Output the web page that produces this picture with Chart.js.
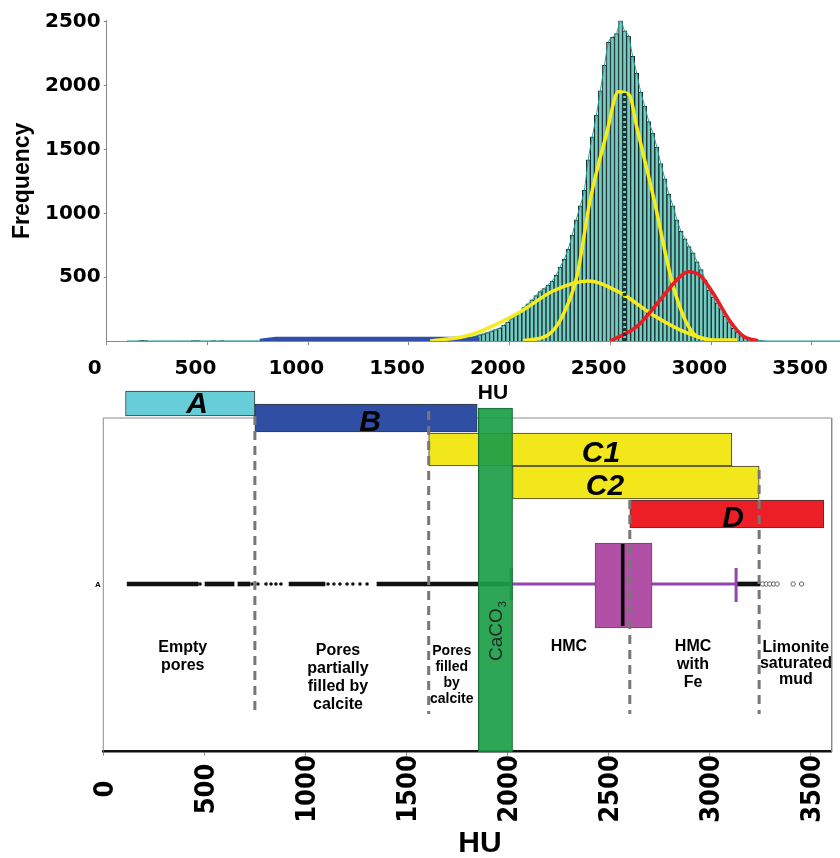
<!DOCTYPE html>
<html>
<head>
<meta charset="utf-8">
<script src="https://cdn.jsdelivr.net/npm/chart.js@4.4.1/dist/chart.umd.min.js"></script>
<style>
  html, body { margin: 0; padding: 0; background: #fff; }
  #wrap { position: relative; width: 840px; height: 858px; }
  #histo, #ranges { position: absolute; left: 0; top: 0; }
</style>
</head>
<body>
<div id="wrap">
  <canvas id="histo" width="840" height="400"></canvas>
  <canvas id="ranges" width="840" height="858"></canvas>
</div>
<script>
// ---------- Histogram of CT numbers (20 HU bins) ----------
const binCenters = [170, 190, 430, 450, 530, 570,
  1770, 1790, 1810, 1830, 1850, 1870, 1890, 1910, 1930, 1950,
  1970, 1990, 2010, 2030, 2050, 2070, 2090, 2110, 2130, 2150,
  2170, 2190, 2210, 2230, 2250, 2270, 2290, 2310, 2330, 2350,
  2370, 2390, 2410, 2430, 2450, 2470, 2490, 2510, 2530, 2550,
  2570, 2590, 2610, 2630, 2650, 2670, 2690, 2710, 2730, 2750,
  2770, 2790, 2810, 2830, 2850, 2870, 2890, 2910, 2930, 2950,
  2970, 2990, 3010, 3030, 3050, 3070, 3090, 3110, 3130, 3150,
  3170, 3190, 3210, 3230, 3250];
const binCounts = [6, 5, 4, 4, 3, 4,
  10, 18, 28, 38, 48, 56, 66, 78, 90, 102,
  122, 148, 175, 200, 228, 262, 292, 322, 355, 388,
  410, 438, 470, 515, 580, 640, 720, 830, 950, 1060,
  1180, 1420, 1600, 1770, 1960, 2160, 2340, 2380, 2410, 2510,
  2430, 2390, 2230, 2100, 1950, 1840, 1720, 1630, 1520, 1390,
  1270, 1150, 1060, 950, 860, 800, 740, 690, 620, 560,
  480, 400, 345, 300, 255, 195, 150, 100, 70, 42,
  28, 17, 10, 5, 3];

// Fitted component curves
const fitBHU = [760, 840, 1850];
const fitBFreq = [0, 15, 15];
const fitC1HU = [2066, 2190, 2260, 2333, 2399, 2481, 2539, 2594, 2630, 2713, 2812, 2911, 2994];
const fitC1Freq = [2, 47, 190, 504, 1105, 1628, 1954, 1928, 1680, 1131, 426, 60, 8];
const fitC2HU = [1605, 1803, 2051, 2215, 2389, 2548, 2711, 2880, 3009, 3128];
const fitC2Freq = [0, 47, 227, 392, 470, 379, 204, 63, 8, 8];
const fitDHU = [2498, 2630, 2746, 2829, 2886, 2944, 3009, 3093, 3158, 3232];
const fitDFreq = [0, 112, 321, 478, 543, 514, 376, 157, 39, 2];
const medianHU = 2570;
const medianLineTop = 1950;
const freqTicks = [500, 1000, 1500, 2000, 2500];
const huTicks = [0, 500, 1000, 1500, 2000, 2500, 3000, 3500];

// ---------- Attenuation ranges and box plot ----------
const zoneNames = ['A', 'B', 'C1', 'C2', 'D'];
const zoneStart = [110, 750, 1610, 2025, 2605];
const zoneEnd = [750, 1850, 3110, 3245, 3565];
const zoneLabelHU = [464, 1320, 2462, 2482, 3116];
const caco3Range = [1855, 2025];
const boundaryHU = [750, 1610, 2605, 3245];
const phaseNames = [['Empty', 'pores'], ['Pores', 'partially', 'filled by', 'calcite'],
  ['Pores', 'filled', 'by', 'calcite'], ['HMC'], ['HMC', 'with', 'Fe'],
  ['Limonite', 'saturated', 'mud']];
const phaseLabelHU = [393, 1161, 1724, 2304, 2918, 3427];
const lowWhisker = 2017;
const quartile1 = 2433;
const medianBox = 2570;
const quartile3 = 2715;
const highWhisker = 3131;
const outlierRuns = [[118, 470], [503, 647], [666, 726], [919, 1097], [1354, 1592], [1592, 2017], [3131, 3250]];
const lowOutliers = [479, 736, 765, 805, 830, 854, 879, 1112, 1141, 1171, 1206, 1235, 1270, 1305];
const highOutliers = [3262, 3280, 3298, 3316, 3334, 3413, 3455];

// ---------- layout (page pixels) ----------
const zoneRowY = [403.5, 418, 449.5, 482.5, 514];
const zoneRowH = [25, 28, 33, 33, 28];
const zoneLabelBase = [413, 431, 462, 495, 527];
const zoneFill = ['#67cdd8', '#2f4fa4', '#f2e71b', '#f2e71b', '#ec1f26'];
const boundaryTop = [416, 411, 500, 470];
const boundaryBottom = 714;
const boxRowY = 584;
const frameTop = 418;
const plotBottom = 751.7;

function hasFont(name) {
  const c = document.createElement('canvas').getContext('2d');
  c.font = '40px monospace';
  const a = c.measureText('1000 abc').width;
  c.font = '40px "' + name + '", monospace';
  return c.measureText('1000 abc').width !== a;
}
const narrowOk = hasFont('Liberation Sans Narrow');
const bottomTickFont = narrowOk ? 'bold 35px "Liberation Sans Narrow"' : 'bold 27px "DejaVu Sans Condensed", "DejaVu Sans"';

// fixed tick positions for an axis
const useTicks = list => scale => {
  scale.ticks = list.map(v => ({value: v}));
};
// keep the plot area edge where the layout puts it
const noEdgePadding = (size) => s => {
  if (s.isHorizontal()) { s.height = size; s.paddingLeft = 0; s.paddingRight = 0; }
  else { s.width = size; s.paddingTop = 0; s.paddingBottom = 0; }
};
const plainNumber = v => String(v);

// ---------- top chart ----------
const histLabels = {
  id: 'histLabels',
  afterDraw(chart) {
    const ctx = chart.ctx;
    ctx.save();
    ctx.fillStyle = '#000';
    ctx.font = 'bold 21px "Liberation Sans", Arial, sans-serif';
    ctx.textAlign = 'center';
    ctx.textBaseline = 'middle';
    ctx.fillText('HU', 493, 393);
    ctx.restore();
  }
};

const envelope = [{x: 100, y: 0}]
  .concat(binCenters.slice(6).map((x, i) => ({x, y: binCounts[i + 6]})))
  .concat([{x: 3290, y: 0}, {x: 3639, y: 0}]);

new Chart(document.getElementById('histo'), {
  type: 'bar',
  data: {
    datasets: [
      {type: 'line', data: [{x: medianHU, y: 0}, {x: medianHU, y: medianLineTop}],
        borderColor: '#163836', borderWidth: 4, borderDash: [3, 2], pointRadius: 0, order: 1},
      {type: 'line', data: fitDHU.map((x, i) => ({x, y: fitDFreq[i]})),
        borderColor: '#ec1c24', borderWidth: 3.5, pointRadius: 0, cubicInterpolationMode: 'monotone', order: 2},
      {type: 'line', data: fitC1HU.map((x, i) => ({x, y: fitC1Freq[i]})),
        borderColor: '#f6eb1c', borderWidth: 3.5, pointRadius: 0, cubicInterpolationMode: 'monotone', order: 3},
      {type: 'line', data: fitC2HU.map((x, i) => ({x, y: fitC2Freq[i]})),
        borderColor: '#f6eb1c', borderWidth: 3.5, pointRadius: 0, cubicInterpolationMode: 'monotone', order: 4},
      {type: 'line', data: fitBHU.map((x, i) => ({x, y: fitBFreq[i]})),
        borderColor: '#2f4fa8', borderWidth: 4.5, pointRadius: 0, order: 5},
      {type: 'line', data: envelope,
        borderColor: '#2a9c94', borderWidth: 1, pointRadius: 0, cubicInterpolationMode: 'monotone', order: 6},
      {type: 'bar', data: binCenters.map((x, i) => ({x, y: binCounts[i]})),
        backgroundColor: '#74cbc2', borderColor: '#142b2a', borderWidth: 1,
        barPercentage: 1, categoryPercentage: 1, order: 10}
    ]
  },
  options: {
    responsive: false,
    animation: false,
    events: [],
    layout: {padding: {top: 20.7, right: 0, bottom: 0, left: 0}},
    plugins: {legend: {display: false}, tooltip: {enabled: false}},
    scales: {
      x: {
        type: 'linear', min: 0, max: 3639, offset: false,
        afterBuildTicks: useTicks(huTicks),
        afterFit: noEdgePadding(59),
        ticks: {labelOffset: -12, padding: 12, maxRotation: 0, minRotation: 0, autoSkip: false,
          callback: plainNumber,
          color: '#000', font: {family: '"DejaVu Sans"', weight: 'bold', size: 20}},
        grid: {display: true, drawOnChartArea: false, tickLength: 4, color: '#888', offset: false},
        border: {color: '#888', width: 1}
      },
      y: {
        type: 'linear', min: 0, max: 2510,
        afterBuildTicks: useTicks(freqTicks),
        afterFit: noEdgePadding(106.7),
        ticks: {padding: 3, autoSkip: false, color: '#000', callback: plainNumber,
          font: {family: '"DejaVu Sans"', weight: 'bold', size: 20}},
        grid: {display: true, drawOnChartArea: false, tickLength: 3, color: '#888'},
        border: {color: '#888', width: 1},
        title: {display: true, text: 'Frequency', color: '#000', padding: {top: 9, bottom: 0},
          font: {family: '"Liberation Sans", Arial, sans-serif', weight: 'bold', size: 23}}
      }
    }
  },
  plugins: [histLabels]
});

// ---------- bottom chart ----------
function seg(points, color, width, order, dash) {
  return {type: 'line', data: points, borderColor: color, borderWidth: width, borderDash: dash || [],
    pointRadius: 0, order, clip: false};
}

const rangeText = {
  id: 'rangeText',
  afterDraw(chart) {
    const ctx = chart.ctx;
    const xs = chart.scales.x;
    ctx.save();
    ctx.fillStyle = '#000';
    ctx.textAlign = 'center';

    // zone letters
    ctx.font = 'italic bold 30px "Liberation Sans", Arial, sans-serif';
    ctx.textBaseline = 'alphabetic';
    zoneNames.forEach((n, i) => ctx.fillText(n, xs.getPixelForValue(zoneLabelHU[i]), zoneLabelBase[i]));

    // phase descriptions
    const firstY = [648, 651, 651, 647, 647, 648];
    const step = [18, 18, 16, 18, 18, 16];
    const size = [16, 16, 14, 16, 16, 16];
    ctx.textBaseline = 'middle';
    phaseNames.forEach((lines, i) => {
      ctx.font = 'bold ' + size[i] + 'px "Liberation Sans", Arial, sans-serif';
      lines.forEach((t, k) => ctx.fillText(t, xs.getPixelForValue(phaseLabelHU[i]), firstY[i] + k * step[i]));
    });

    // CaCO3 (vertical)
    const cx = xs.getPixelForValue((caco3Range[0] + caco3Range[1]) / 2);
    ctx.save();
    ctx.translate(cx, 631);
    ctx.rotate(-Math.PI / 2);
    ctx.fillStyle = '#262626';
    ctx.font = '19px "Liberation Sans", Arial, sans-serif';
    ctx.textAlign = 'left';
    ctx.textBaseline = 'alphabetic';
    const w1 = ctx.measureText('CaCO').width;
    ctx.font = '11px "Liberation Sans", Arial, sans-serif';
    const w2 = ctx.measureText('3').width;
    const x0 = -(w1 + w2 + 1) / 2;
    ctx.font = '19px "Liberation Sans", Arial, sans-serif';
    ctx.fillText('CaCO', x0, 7);
    ctx.font = '11px "Liberation Sans", Arial, sans-serif';
    ctx.fillText('3', x0 + w1 + 1, 11);
    ctx.restore();

    // box-plot row label
    ctx.font = 'bold 8px "Liberation Sans", Arial, sans-serif';
    ctx.textAlign = 'center';
    ctx.fillText('A', 98, boxRowY + 1);

    // x tick labels, rotated and centred in the label band
    ctx.font = bottomTickFont;
    const fs = narrowOk ? 35 : 27;
    xs.ticks.forEach(t => {
      ctx.save();
      ctx.translate(xs.getPixelForValue(t.value), 789);
      ctx.rotate(-Math.PI / 2);
      ctx.textAlign = 'center';
      ctx.textBaseline = 'alphabetic';
      ctx.fillText(String(t.value), 0, fs * 0.36);
      ctx.restore();
    });

    // axis title
    ctx.font = 'bold 30px "Liberation Sans", Arial, sans-serif';
    ctx.textAlign = 'center';
    ctx.textBaseline = 'middle';
    ctx.fillText('HU', 480, 844);
    ctx.restore();
  }
};

const rangeDatasets = [];
// frame of the plot panel
rangeDatasets.push(seg([{x: 0, y: plotBottom}, {x: 0, y: frameTop}, {x: 3604, y: frameTop}, {x: 3604, y: plotBottom}], '#8c8c8c', 1, 100));
// zone bars
zoneNames.forEach((n, i) => rangeDatasets.push({
  type: 'bar', indexAxis: 'y', grouped: false, clip: false,
  data: [{x: [zoneStart[i], zoneEnd[i]], y: zoneRowY[i]}],
  barThickness: zoneRowH[i], backgroundColor: zoneFill[i], borderColor: '#3a3a3a', borderWidth: 1,
  borderSkipped: false, order: 90
}));
// outlier runs (dense points) and whisker extensions
rangeDatasets.push({
  type: 'bar', indexAxis: 'y', grouped: false, clip: false,
  data: outlierRuns.map(r => ({x: r, y: boxRowY})),
  barThickness: 4, backgroundColor: '#111', borderWidth: 0, order: 80
});
rangeDatasets.push({
  type: 'line', showLine: false, clip: false, order: 79,
  data: lowOutliers.map(x => ({x, y: boxRowY})),
  pointRadius: 1.8, pointBackgroundColor: '#111', pointBorderWidth: 0
});
rangeDatasets.push({
  type: 'line', showLine: false, clip: false, order: 79,
  data: highOutliers.map(x => ({x, y: boxRowY})),
  pointRadius: 2.2, pointBackgroundColor: '#fff', pointBorderColor: '#666', pointBorderWidth: 1
});
// whiskers and caps
rangeDatasets.push(seg([{x: lowWhisker, y: boxRowY}, {x: quartile1, y: boxRowY}], '#9444b2', 3, 75));
rangeDatasets.push(seg([{x: quartile3, y: boxRowY}, {x: highWhisker, y: boxRowY}], '#9444b2', 3, 75));
rangeDatasets.push(seg([{x: highWhisker, y: 568}, {x: highWhisker, y: 602}], '#9444b2', 3, 75));
rangeDatasets.push(seg([{x: lowWhisker, y: 568}, {x: lowWhisker, y: 600}], '#0f5a2c', 3, 75));
// interquartile box and median
rangeDatasets.push({
  type: 'bar', indexAxis: 'y', grouped: false, clip: false,
  data: [{x: [quartile1, quartile3], y: 585.5}],
  barThickness: 85, backgroundColor: '#b24fa7', borderColor: '#555', borderWidth: 1, borderSkipped: false, order: 72
});
rangeDatasets.push(seg([{x: medianBox, y: 544}, {x: medianBox, y: 626}], '#000', 3.5, 71));
// calcite band
rangeDatasets.push({
  type: 'bar', indexAxis: 'y', grouped: false, clip: false,
  data: [{x: caco3Range, y: 580}],
  barThickness: 344, backgroundColor: 'rgba(27,158,72,0.92)', borderColor: '#1b6a38', borderWidth: 1,
  borderSkipped: false, order: 60
});
// zone boundaries
boundaryHU.forEach((b, i) => rangeDatasets.push(
  seg([{x: b, y: boundaryTop[i]}, {x: b, y: boundaryBottom}], '#7b7574', 3, 50, [9, 6])));

new Chart(document.getElementById('ranges'), {
  type: 'bar',
  data: {datasets: rangeDatasets},
  options: {
    responsive: false,
    animation: false,
    events: [],
    layout: {padding: {top: 386, right: 8.3, bottom: 0, left: 103.3}},
    plugins: {legend: {display: false}, tooltip: {enabled: false}},
    scales: {
      x: {
        type: 'linear', min: 0, max: 3604, offset: false,
        afterBuildTicks: useTicks(huTicks),
        afterFit: noEdgePadding(858 - plotBottom),
        ticks: {maxRotation: 0, minRotation: 0, autoSkip: false, color: 'rgba(0,0,0,0)',
          font: {size: 8}},
        grid: {display: true, drawOnChartArea: false, tickLength: 4, color: '#888', offset: false},
        border: {color: '#111', width: 2.5}
      },
      y: {type: 'linear', display: false, reverse: true, min: 386, max: plotBottom, offset: false}
    }
  },
  plugins: [rangeText]
});
</script>
</body>
</html>
